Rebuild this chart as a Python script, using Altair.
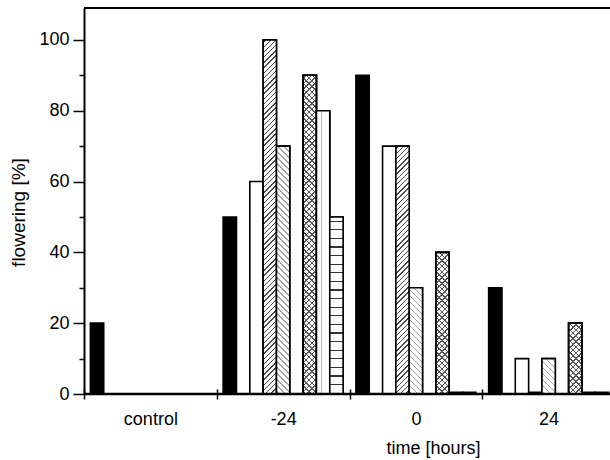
import altair as alt
import pandas as pd

# ---------------- data ----------------
groups = ["control", "-24", "0", "24"]
slots = ["black", "blank1", "white", "fwd", "back", "blank2", "cross", "dots", "hlines"]
black  = [20, 50, 90, 30]
blank1 = [0, 0, 0, 0]
white  = [0, 60, 70, 10]
fwd    = [0, 100, 70, 0.5]
back   = [0, 70, 30, 10]
blank2 = [0, 0, 0, 0]
cross  = [0, 90, 40, 20]
dots   = [0, 80, 0.5, 0.5]
hlines = [0, 50, 0.5, 0.5]
y_ticks = [0, 10, 20, 30, 40, 50, 60, 70, 80, 90, 100]

series = dict(black=black, blank1=blank1, white=white, fwd=fwd, back=back,
              blank2=blank2, cross=cross, dots=dots, hlines=hlines)

rows = []
for gi, g in enumerate(groups):
    for s in slots:
        rows.append({"group": g, "slot": s, "value": series[s][gi]})
df = pd.DataFrame(rows)

# ---------------- layout ----------------
PAD_L, PAD_T, PAD_B = 84, 8, 66
W, H = 526, 386
GROUP_W = 132.75
X_RANGE = GROUP_W * len(groups)
Y_MAX = 109
OUTER = 0.48
BW = GROUP_W / (len(slots) + 2 * OUTER)
PPU = H / Y_MAX
FONT = "Liberation Sans"

x_enc = alt.X(
    "group:N", sort=groups,
    scale=alt.Scale(range=[0, X_RANGE], paddingInner=0, paddingOuter=0),
    axis=alt.Axis(title="time [hours]", domain=False, offset=-5, tickSize=10,
                  tickBand="extent", tickColor="black", tickWidth=1.5,
                  labelAngle=0, labelPadding=25, labelBaseline="alphabetic",
                  labelFontSize=18, titleFontSize=18, titleX=349, titleY=64,
                  titleBaseline="alphabetic", grid=False),
)
xo_enc = alt.XOffset("slot:N", sort=slots,
                     scale=alt.Scale(paddingInner=0, paddingOuter=OUTER))
y_enc = alt.Y(
    "value:Q",
    scale=alt.Scale(domain=[0, Y_MAX], nice=False, zero=True),
    axis=alt.Axis(values=y_ticks, title="flowering [%]",
                  labelExpr="datum.value % 20 == 0 ? datum.label : ''",
                  tickSize={"condition": {"test": "datum.value % 20 == 0", "value": 11}, "value": 5},
                  labelPadding=4, domainColor="black", domainWidth=2,
                  tickColor="black", tickWidth=1.5, grid=False,
                  labelFontSize=18, titleFontSize=19,
                  titleX=-66, titleY=204, titleBaseline="middle"),
)


def stripe_stops(total, t_scale, period, thick, line, bg):
    stops = [{"offset": 0, "color": bg}]
    s = period / 2.0
    while s - thick / 2.0 < total:
        a = min(1.0, max(0.0, (s - thick / 2.0) * t_scale))
        b = min(1.0, max(0.0, (s + thick / 2.0) * t_scale))
        a, b = round(a, 6), round(b, 6)
        stops += [{"offset": a, "color": bg}, {"offset": a, "color": line},
                  {"offset": b, "color": line}, {"offset": b, "color": bg}]
        s += period
    stops.append({"offset": 1, "color": bg})
    return stops


def diag(value, direction, period, thick, line, bg):
    h = value * PPU
    w = BW
    r = h / w
    t_scale = w / (w * w + h * h)
    stops = stripe_stops(w + h, t_scale, period, thick, line, bg)
    if direction == "fwd":
        return {"gradient": "linear", "x1": 0, "y1": 0, "x2": 1, "y2": r, "stops": stops}
    return {"gradient": "linear", "x1": 0, "y1": 1, "x2": 1, "y2": 1 - r, "stops": stops}


def horiz(value, period, thick, line, bg):
    h = value * PPU
    stops = stripe_stops(h, 1.0 / h, period, thick, line, bg)
    return {"gradient": "linear", "x1": 0, "y1": 0, "x2": 0, "y2": 1, "stops": stops}


def vline(line, bg):
    return {"gradient": "linear", "x1": 0, "y1": 0, "x2": 1, "y2": 0,
            "stops": [{"offset": 0, "color": bg}, {"offset": 0.36, "color": bg},
                      {"offset": 0.36, "color": line}, {"offset": 0.44, "color": line},
                      {"offset": 0.44, "color": bg}, {"offset": 1, "color": bg}]}


TRANSP = "rgba(255,255,255,0)"


def bar_layer(fill, g, s):
    return alt.Chart(df).transform_filter(
        f"datum.group == '{g}' && datum.slot == '{s}'"
    ).mark_bar(fill=fill, stroke="black", strokeWidth=1.6).encode(
        x=x_enc, xOffset=xo_enc, y=y_enc)


base = alt.Chart(df).mark_bar(stroke="black", strokeWidth=1.6).encode(
    x=x_enc, xOffset=xo_enc, y=y_enc,
    fill=alt.Fill("slot:N", scale=alt.Scale(domain=slots, range=["#000000"] + ["#ffffff"] * 8),
                  legend=None),
)

layers = [base]
for gi, g in enumerate(groups):
    for s in ["fwd", "back", "cross", "dots", "hlines"]:
        v = series[s][gi]
        if v < 5:
            continue
        if s == "fwd":
            layers.append(bar_layer(diag(v, "fwd", 5.2, 1.5, "#4a4a4a", "#ffffff"), g, s))
        elif s == "back":
            layers.append(bar_layer(diag(v, "back", 6.0, 1.5, "#a8a8a8", "#ffffff"), g, s))
        elif s == "cross":
            layers.append(bar_layer(diag(v, "back", 5.7, 1.5, "#555555", "#ffffff"), g, s))
            layers.append(bar_layer(diag(v, "fwd", 5.7, 1.5, "#555555", TRANSP), g, s))
        elif s == "dots":
            layers.append(bar_layer(vline("#b8b8b8", "#ffffff"), g, s))
        elif s == "hlines":
            layers.append(bar_layer(horiz(v, 8.6, 1.3, "#333333", "#ffffff"), g, s))

baseline = alt.Chart(pd.DataFrame({"value": [0]})).mark_rule(
    color="black", strokeWidth=2.5).encode(y=y_enc)
topline = alt.Chart(pd.DataFrame({"value": [Y_MAX]})).mark_rule(
    color="black", strokeWidth=2).encode(y=y_enc)
layers += [baseline, topline]

chart = alt.layer(*layers).properties(
    width=W, height=H,
    padding={"left": PAD_L, "top": PAD_T, "right": 0, "bottom": PAD_B},
    autosize=alt.AutoSizeParams(type="none"),
).configure_view(stroke=None).configure_axis(
    labelFont=FONT, titleFont=FONT, labelColor="black", titleColor="black",
    titleFontWeight="normal",
)

chart.save("out.html", embed_options={"renderer": "svg", "actions": False})
